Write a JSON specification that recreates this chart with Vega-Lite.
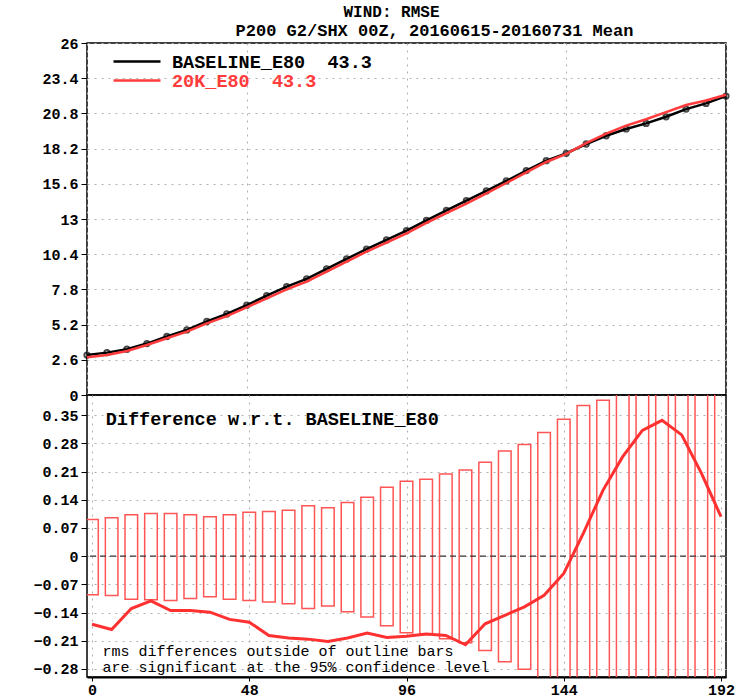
{
  "$schema": "https://vega.github.io/schema/vega-lite/v6.json",
  "background": "white",
  "padding": {"left": 5, "top": 4, "right": 5, "bottom": 0},
  "bounds": "flush",
  "spacing": 0,
  "title": {"text": "WIND: RMSE", "anchor": "middle", "frame": "group", "font": "Liberation Mono", "fontWeight": "bold", "fontSize": 16, "color": "black", "offset": 1, "dx": -15},
  "config": {
    "font": "Liberation Mono",
    "view": {"stroke": "black", "strokeWidth": 1.5},
    "axis": {"labelFont": "Liberation Mono", "labelFontWeight": "bold", "labelFontSize": 15, "labelColor": "black", "labelOverlap": false, "tickColor": "black", "domainColor": "black", "gridColor": "#b0b0b0", "gridDash": [2, 5], "gridWidth": 1, "title": null},
    "concat": {"spacing": 0}
  },
  "datasets": {
    "rmse": [
      {"t": 0, "series": "BASELINE_E80", "rmse": 2.95}, {"t": 6, "series": "BASELINE_E80", "rmse": 3.13}, {"t": 12, "series": "BASELINE_E80", "rmse": 3.38}, {"t": 18, "series": "BASELINE_E80", "rmse": 3.80}, {"t": 24, "series": "BASELINE_E80", "rmse": 4.32}, {"t": 30, "series": "BASELINE_E80", "rmse": 4.81}, {"t": 36, "series": "BASELINE_E80", "rmse": 5.43}, {"t": 42, "series": "BASELINE_E80", "rmse": 5.99}, {"t": 48, "series": "BASELINE_E80", "rmse": 6.63}, {"t": 54, "series": "BASELINE_E80", "rmse": 7.34}, {"t": 60, "series": "BASELINE_E80", "rmse": 8.00}, {"t": 66, "series": "BASELINE_E80", "rmse": 8.58}, {"t": 72, "series": "BASELINE_E80", "rmse": 9.32}, {"t": 78, "series": "BASELINE_E80", "rmse": 10.05}, {"t": 84, "series": "BASELINE_E80", "rmse": 10.78}, {"t": 90, "series": "BASELINE_E80", "rmse": 11.45}, {"t": 96, "series": "BASELINE_E80", "rmse": 12.14}, {"t": 102, "series": "BASELINE_E80", "rmse": 12.90}, {"t": 108, "series": "BASELINE_E80", "rmse": 13.64}, {"t": 114, "series": "BASELINE_E80", "rmse": 14.36}, {"t": 120, "series": "BASELINE_E80", "rmse": 15.07}, {"t": 126, "series": "BASELINE_E80", "rmse": 15.81}, {"t": 132, "series": "BASELINE_E80", "rmse": 16.58}, {"t": 138, "series": "BASELINE_E80", "rmse": 17.31}, {"t": 144, "series": "BASELINE_E80", "rmse": 17.85}, {"t": 150, "series": "BASELINE_E80", "rmse": 18.54}, {"t": 156, "series": "BASELINE_E80", "rmse": 19.15}, {"t": 162, "series": "BASELINE_E80", "rmse": 19.65}, {"t": 168, "series": "BASELINE_E80", "rmse": 20.06}, {"t": 174, "series": "BASELINE_E80", "rmse": 20.55}, {"t": 180, "series": "BASELINE_E80", "rmse": 21.12}, {"t": 186, "series": "BASELINE_E80", "rmse": 21.54}, {"t": 192, "series": "BASELINE_E80", "rmse": 22.08},
      {"t": 0, "series": "20K_E80", "rmse": 2.78}, {"t": 6, "series": "20K_E80", "rmse": 2.95}, {"t": 12, "series": "20K_E80", "rmse": 3.25}, {"t": 18, "series": "20K_E80", "rmse": 3.69}, {"t": 24, "series": "20K_E80", "rmse": 4.19}, {"t": 30, "series": "20K_E80", "rmse": 4.68}, {"t": 36, "series": "20K_E80", "rmse": 5.29}, {"t": 42, "series": "20K_E80", "rmse": 5.83}, {"t": 48, "series": "20K_E80", "rmse": 6.47}, {"t": 54, "series": "20K_E80", "rmse": 7.14}, {"t": 60, "series": "20K_E80", "rmse": 7.80}, {"t": 66, "series": "20K_E80", "rmse": 8.37}, {"t": 72, "series": "20K_E80", "rmse": 9.11}, {"t": 78, "series": "20K_E80", "rmse": 9.85}, {"t": 84, "series": "20K_E80", "rmse": 10.59}, {"t": 90, "series": "20K_E80", "rmse": 11.25}, {"t": 96, "series": "20K_E80", "rmse": 11.94}, {"t": 102, "series": "20K_E80", "rmse": 12.71}, {"t": 108, "series": "20K_E80", "rmse": 13.44}, {"t": 114, "series": "20K_E80", "rmse": 14.14}, {"t": 120, "series": "20K_E80", "rmse": 14.90}, {"t": 126, "series": "20K_E80", "rmse": 15.66}, {"t": 132, "series": "20K_E80", "rmse": 16.45}, {"t": 138, "series": "20K_E80", "rmse": 17.21}, {"t": 144, "series": "20K_E80", "rmse": 17.81}, {"t": 150, "series": "20K_E80", "rmse": 18.60}, {"t": 156, "series": "20K_E80", "rmse": 19.31}, {"t": 162, "series": "20K_E80", "rmse": 19.90}, {"t": 168, "series": "20K_E80", "rmse": 20.37}, {"t": 174, "series": "20K_E80", "rmse": 20.89}, {"t": 180, "series": "20K_E80", "rmse": 21.42}, {"t": 186, "series": "20K_E80", "rmse": 21.75}, {"t": 192, "series": "20K_E80", "rmse": 22.18}
    ],
    "diff": [
      {"t": 0, "diff": -0.169, "lo": -0.096, "hi": 0.091}, {"t": 6, "diff": -0.182, "lo": -0.098, "hi": 0.095}, {"t": 12, "diff": -0.130, "lo": -0.107, "hi": 0.103}, {"t": 18, "diff": -0.111, "lo": -0.108, "hi": 0.106}, {"t": 24, "diff": -0.135, "lo": -0.110, "hi": 0.106}, {"t": 30, "diff": -0.135, "lo": -0.105, "hi": 0.103}, {"t": 36, "diff": -0.139, "lo": -0.101, "hi": 0.098}, {"t": 42, "diff": -0.157, "lo": -0.107, "hi": 0.103}, {"t": 48, "diff": -0.164, "lo": -0.110, "hi": 0.109}, {"t": 54, "diff": -0.197, "lo": -0.114, "hi": 0.111}, {"t": 60, "diff": -0.203, "lo": -0.118, "hi": 0.114}, {"t": 66, "diff": -0.206, "lo": -0.130, "hi": 0.125}, {"t": 72, "diff": -0.212, "lo": -0.124, "hi": 0.120}, {"t": 78, "diff": -0.203, "lo": -0.138, "hi": 0.133}, {"t": 84, "diff": -0.191, "lo": -0.151, "hi": 0.146}, {"t": 90, "diff": -0.202, "lo": -0.173, "hi": 0.171}, {"t": 96, "diff": -0.199, "lo": -0.190, "hi": 0.186}, {"t": 102, "diff": -0.193, "lo": -0.193, "hi": 0.191}, {"t": 108, "diff": -0.197, "lo": -0.205, "hi": 0.204}, {"t": 114, "diff": -0.220, "lo": -0.215, "hi": 0.214}, {"t": 120, "diff": -0.168, "lo": -0.234, "hi": 0.233}, {"t": 126, "diff": -0.147, "lo": -0.262, "hi": 0.261}, {"t": 132, "diff": -0.126, "lo": -0.281, "hi": 0.277}, {"t": 138, "diff": -0.097, "lo": -0.310, "hi": 0.307}, {"t": 144, "diff": -0.043, "lo": -0.340, "hi": 0.340}, {"t": 150, "diff": 0.057, "lo": -0.370, "hi": 0.374}, {"t": 156, "diff": 0.164, "lo": -0.390, "hi": 0.387}, {"t": 162, "diff": 0.247, "lo": -0.420, "hi": 0.420}, {"t": 168, "diff": 0.312, "lo": -0.450, "hi": 0.450}, {"t": 174, "diff": 0.337, "lo": -0.480, "hi": 0.480}, {"t": 180, "diff": 0.301, "lo": -0.500, "hi": 0.500}, {"t": 186, "diff": 0.206, "lo": -0.520, "hi": 0.520}, {"t": 192, "diff": 0.098, "lo": -0.550, "hi": 0.550}
    ]
  },
  "vconcat": [
    {
      "width": 639,
      "height": 352,
      "title": {"text": "P200 G2/SHX 00Z, 20160615-20160731 Mean", "anchor": "middle", "frame": "group", "font": "Liberation Mono", "fontWeight": "bold", "fontSize": 17, "color": "black", "offset": -4, "dx": 28},
      "data": {"name": "rmse"},
      "encoding": {
        "x": {"field": "t", "type": "quantitative", "scale": {"domain": [0, 192], "nice": false}, "axis": {"values": [0, 48, 96, 144, 192], "tickCount": 20, "labels": false, "ticks": false, "domain": false, "grid": true, "minExtent": 0, "maxExtent": 0}},
        "y": {"field": "rmse", "type": "quantitative", "scale": {"domain": [0, 26], "nice": false}, "axis": {"values": [0, 2.6, 5.2, 7.8, 10.4, 13, 15.6, 18.2, 20.8, 23.4, 26], "tickCount": 20, "labelExpr": "format(datum.value, '')", "labelOverlap": false, "tickSize": 6, "labelPadding": 3, "minExtent": 81, "maxExtent": 81, "domain": false, "grid": true}}
      },
      "layer": [
        {
          "transform": [{"filter": "datum.series === 'BASELINE_E80'"}],
          "mark": {"type": "line", "strokeWidth": 2.5},
          "encoding": {
            "color": {"field": "series", "type": "nominal", "scale": {"domain": ["BASELINE_E80", "20K_E80"], "range": ["black", "#ff3b3b"]},
              "legend": {"title": null, "orient": "none", "legendX": 25, "legendY": 10, "symbolType": "stroke", "symbolSize": 2209, "symbolStrokeWidth": 2.5, "clipHeight": 17, "rowPadding": 0, "labelLimit": 400, "labelFont": "Liberation Mono", "labelFontWeight": "bold", "labelFontSize": 18.5, "labelOffset": 10, "labelExpr": "datum.label + '\u00a0\u00a043.3'",
                "encode": {"labels": {"update": {"fill": {"signal": "datum.value === '20K_E80' ? '#ff3b3b' : 'black'"}}}}}}
          }
        },
        {
          "transform": [{"filter": "datum.series === 'BASELINE_E80'"}],
          "mark": {"type": "point", "filled": false, "color": "black", "size": 28, "strokeWidth": 2}
        },
        {
          "transform": [{"filter": "datum.series === '20K_E80'"}],
          "mark": {"type": "line", "strokeWidth": 2.5},
          "encoding": {"color": {"field": "series", "type": "nominal"}}
        },
        {
          "data": {"values": [{}]},
          "mark": {"type": "rule", "color": "black", "strokeWidth": 3},
          "encoding": {"y": {"datum": 0, "type": "quantitative"}}
        }
      ]
    },
    {
      "width": 639,
      "height": 282,
      "layer": [
        {
          "data": {"name": "diff"},
          "mark": {"type": "bar", "size": 12.6, "fillOpacity": 0, "stroke": "#ff5555", "strokeWidth": 1.5, "clip": true},
          "encoding": {
            "x": {"field": "t", "type": "quantitative", "scale": {"domain": [0, 192], "nice": false}, "axis": {"values": [0, 48, 96, 144, 192], "tickCount": 20, "labelOverlap": false, "tickSize": 4, "labelPadding": 1, "domainWidth": 2, "grid": true}},
            "y": {"field": "lo", "type": "quantitative", "scale": {"domain": [-0.3, 0.4], "nice": false, "zero": false}, "axis": {"values": [-0.28, -0.21, -0.14, -0.07, 0, 0.07, 0.14, 0.21, 0.28, 0.35], "tickCount": 20, "labelExpr": "format(datum.value, '')", "labelOverlap": false, "tickSize": 6, "labelPadding": 3, "minExtent": 81, "maxExtent": 81, "domain": false, "grid": true}},
            "y2": {"field": "hi"}
          }
        },
        {
          "data": {"values": [{}]},
          "mark": {"type": "rule", "color": "#333333", "strokeDash": [6, 4], "strokeWidth": 1.2},
          "encoding": {"y": {"datum": 0, "type": "quantitative"}}
        },
        {
          "data": {"name": "diff"},
          "mark": {"type": "line", "color": "#ff3030", "strokeWidth": 3, "clip": true},
          "encoding": {"x": {"field": "t", "type": "quantitative"}, "y": {"field": "diff", "type": "quantitative"}}
        },
        {
          "data": {"values": [{}]},
          "mark": {"type": "text", "align": "left", "baseline": "middle", "font": "Liberation Mono", "fontWeight": "bold", "fontSize": 18.5, "color": "black", "text": "Difference w.r.t. BASELINE_E80"},
          "encoding": {"x": {"datum": 4.2, "type": "quantitative"}, "y": {"datum": 0.341, "type": "quantitative"}}
        },
        {
          "data": {"values": [{}]},
          "mark": {"type": "text", "align": "left", "baseline": "middle", "font": "Liberation Mono", "fontSize": 15, "lineHeight": 16, "color": "black", "text": ["rms differences outside of outline bars", "are significant at the 95% confidence level"]},
          "encoding": {"x": {"datum": 3.2, "type": "quantitative"}, "y": {"datum": -0.2355, "type": "quantitative"}}
        }
      ]
    }
  ]
}
